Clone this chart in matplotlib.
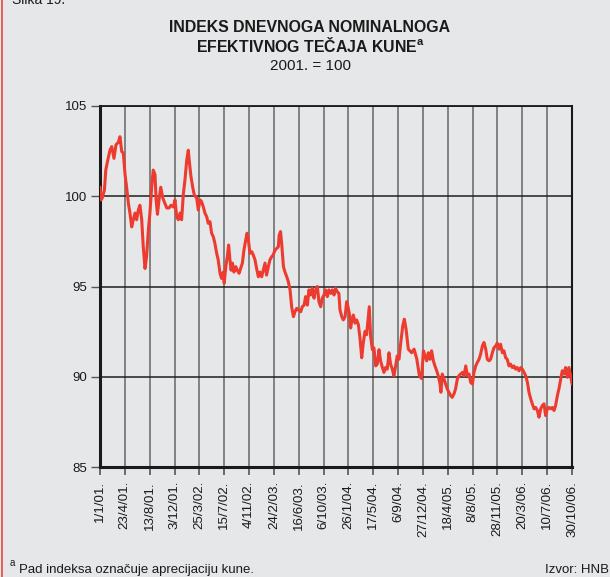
import matplotlib
matplotlib.use('Agg')
import matplotlib.pyplot as plt
from matplotlib.lines import Line2D
import pandas as pd

plt.rcParams['font.family'] = ['Liberation Sans', 'DejaVu Sans']
plt.rcParams['mathtext.default'] = 'regular'

# ---------------- data ----------------
title_line1 = "INDEKS DNEVNOGA NOMINALNOGA"
title_line2 = "EFEKTIVNOG TEČAJA KUNE"
subtitle = "2001. = 100"
figure_label = "Slika 19."
footnote = "Pad indeksa označuje aprecijaciju kune."
source = "Izvor: HNB"
start_date = "2001-01-01"

day_offsets = [
    0, 5, 10, 20, 26, 35, 45, 53, 63, 72, 83, 90, 98, 105, 113, 120, 128, 135, 143, 150,
    158, 165, 173, 180, 188, 195, 203, 210, 218, 225, 233, 240, 248, 253, 259, 266, 274, 283, 293, 301,
    311, 320, 331, 338, 346, 353, 361, 368, 376, 383, 391, 398, 403, 410, 418, 425, 436, 443, 451, 458,
    466, 473, 481, 488,
    496, 503, 511, 518, 526, 533, 541, 548, 556, 560, 567, 574, 580, 586, 591, 597, 604, 612, 619, 627,
    634, 642, 649, 657, 663, 669, 676, 684, 691, 699, 706, 714, 721, 729, 736, 744, 751, 759, 766, 774,
    781, 789, 796, 804, 808, 814, 819, 827, 834, 842, 849, 857, 864, 872, 879, 887, 894,
    905, 912, 920, 927, 935, 942, 950, 957, 965, 972, 980, 987, 995, 1002, 1010, 1017, 1025, 1032, 1040, 1047,
    1055, 1062, 1070, 1077, 1082, 1090, 1097, 1105, 1112, 1118, 1124, 1130, 1136, 1142, 1150, 1157, 1165, 1172, 1180, 1187,
    1195, 1202, 1210, 1214, 1220, 1228, 1235, 1243, 1250, 1258, 1265, 1273, 1280, 1288, 1295, 1303, 1310, 1318, 1325, 1333,
    1340, 1348,
    1356, 1365, 1372, 1380, 1390, 1405, 1416, 1428, 1440, 1450,
    1458, 1465, 1473, 1480, 1488, 1495, 1503, 1510, 1518, 1525, 1533, 1537, 1543, 1551, 1558, 1566, 1573, 1581, 1588, 1596,
    1603, 1611, 1618, 1626, 1634, 1641, 1649, 1656, 1664, 1671, 1679, 1686, 1694, 1701, 1709, 1716, 1724, 1731, 1739, 1746,
    1754, 1761, 1769, 1776, 1784, 1791, 1799, 1806, 1814, 1821, 1829, 1836, 1844, 1851, 1859, 1866, 1874, 1881, 1889, 1897,
    1904, 1912, 1919, 1927, 1934, 1942, 1949, 1957, 1964, 1972, 1979, 1987, 1994, 2002, 2009, 2017, 2024, 2032, 2039, 2047,
    2054, 2062, 2069, 2077, 2084, 2092, 2099, 2107, 2114, 2122, 2128,
]

index_values = [
    100.5, 99.8, 99.9, 100.35, 101.45, 102.0, 102.55, 102.75, 102.1, 102.85, 103.0, 103.3, 102.47, 102.4, 101.2, 100.5, 99.6, 99.07, 98.3, 98.7,
    99.07, 98.7, 99.25, 99.5, 98.7, 97.2, 96.0, 96.65, 98.13, 99.07, 100.5, 101.45, 101.2, 99.8, 99.0, 99.8, 100.5, 99.9, 99.6, 99.35,
    99.35, 99.5, 99.4, 99.8, 98.87, 98.7, 99.07, 98.7, 100.16, 100.9, 102.0, 102.55, 101.9, 101.1, 100.5, 100.07, 99.9, 99.24, 99.8, 99.7,
    99.4, 99.07, 98.87, 98.5,
    98.59, 97.96, 97.75, 97.39, 96.84, 96.47, 95.73, 95.45, 95.8, 95.18, 96.1, 96.65, 97.3, 96.47, 95.9, 96.3, 95.8, 96.1, 95.9, 95.73,
    96.0, 96.3, 97.02, 97.58, 97.95, 97.58, 96.84, 96.93, 96.75, 96.47, 96.0, 95.54, 95.8, 95.54, 95.9, 96.3, 95.63, 96.1, 96.47, 96.65,
    96.75, 97.02, 97.1, 97.2, 97.85, 98.04, 97.39, 96.1, 95.8, 95.54, 95.27, 94.81, 93.88, 93.33, 93.6, 93.79, 93.7,
    93.6, 93.88, 93.97, 94.44, 93.97, 94.81, 94.53, 94.9, 94.35, 94.81, 95.0, 94.16, 93.88, 94.35, 94.53, 94.81, 94.44, 94.81, 94.62, 94.81,
    94.53, 94.9, 94.7, 94.62, 93.7, 93.33, 93.15, 93.33, 94.16, 93.88, 93.5, 92.7, 93.15, 93.42, 92.97, 93.15, 92.88, 92.15, 91.05, 91.88,
    92.52, 92.33, 93.33, 93.88, 92.24, 91.5, 91.6, 90.6, 90.7, 91.5, 90.88, 90.52, 90.24, 90.52, 90.42, 91.33, 90.7, 90.42, 90.06, 90.6,
    91.15, 90.97,
    91.9, 92.82, 93.19, 92.63, 91.53, 91.33, 91.53, 91.0, 90.06, 89.9,
    91.44, 91.16, 90.88, 91.33, 90.97, 91.44, 90.88, 90.6, 90.33, 90.06, 89.6, 89.14, 90.15, 89.87, 89.6, 89.32, 89.14, 88.95, 88.86, 89.05,
    89.32, 89.87, 90.06, 90.15, 90.24, 90.06, 90.6, 90.06, 90.15, 89.69, 89.6, 90.24, 90.6, 90.79, 90.97, 91.25, 91.71, 91.9, 91.53, 90.97,
    90.88, 90.97, 91.33, 91.6, 91.71, 91.86, 91.53, 91.8, 91.33, 91.44, 91.05, 90.97, 90.6, 90.7, 90.51, 90.6, 90.42, 90.51, 90.33, 90.51,
    90.42, 90.24, 90.06, 89.69, 89.14, 88.77, 88.5, 88.22, 88.3, 88.13, 87.76, 88.22, 88.4, 88.5, 87.85, 88.22, 88.3, 88.22, 88.3, 88.13,
    88.4, 88.95, 89.32, 89.87, 90.33, 90.15, 90.51, 89.97, 90.51, 90.06, 89.6,
]

tick_labels = [
    "1/1/01.", "23/4/01.", "13/8/01.", "3/12/01.", "25/3/02.", "15/7/02.", "4/11/02.",
    "24/2/03.", "16/6/03.", "6/10/03.", "26/1/04.", "17/5/04.", "6/9/04.", "27/12/04.",
    "18/4/05.", "8/8/05.", "28/11/05.", "20/3/06.", "10/7/06.", "30/10/06.",
]
y_ticks = [85, 90, 95, 100, 105]

# ---------------- derived ----------------
dates = pd.Timestamp(start_date) + pd.to_timedelta(day_offsets, unit='D')
tick_dates = [pd.to_datetime(lbl.rstrip('.'), format='%d/%m/%y') for lbl in tick_labels]

BG = '#e6e7e8'
LINE = '#ee3b30'

W, H = 610, 577
fig = plt.figure(figsize=(W / 100, H / 100), dpi=100, facecolor=BG)
ax = fig.add_axes([100 / W, 1 - 467 / H, 472 / W, 361 / H], facecolor=BG)

ax.plot(dates, index_values, color=LINE, lw=2.2, solid_joinstyle='round',
        solid_capstyle='round', zorder=3)

ax.set_xlim(tick_dates[0], tick_dates[-1])
ax.set_ylim(y_ticks[0], y_ticks[-1])
ax.set_yticks(y_ticks)
ax.set_yticklabels([str(v) for v in y_ticks])
ax.set_xticks(tick_dates)
ax.set_xticklabels(tick_labels, rotation=90, fontsize=9.6, color='#1a1a1a')

ax.tick_params(axis='x', direction='out', length=6, width=1.2, pad=4, color='#555555')
ax.tick_params(axis='y', direction='out', length=6.5, width=1.0, pad=3, labelsize=9.5,
               color='#555555', labelcolor='#1a1a1a')

ax.xaxis.grid(True, color='#7a7a7a', lw=1.3, zorder=1)
ax.yaxis.grid(True, color='#1f1f1f', lw=1.1, zorder=1)
ax.set_axisbelow(True)

for side, lw in [('left', 2.2), ('bottom', 2.2), ('top', 1.3), ('right', 1.5)]:
    ax.spines[side].set_linewidth(lw)
    ax.spines[side].set_color('#1a1a1a')

# ---------------- texts ----------------
cx = 310 / W
fig.text(cx, 1 - 32.3 / H, title_line1, ha='center', va='baseline',
         fontsize=11.4, fontweight='bold', color='#1a1a1a')
fig.text(cx, 1 - 52.3 / H, title_line2 + r"$^{a}$", ha='center', va='baseline',
         fontsize=11.4, fontweight='bold', color='#1a1a1a')
fig.text(cx, 1 - 70 / H, subtitle, ha='center', va='baseline',
         fontsize=11, color='#1a1a1a')

fig.text(12 / W, 1 - 3.5 / H, figure_label, ha='left', va='baseline',
         fontsize=10, color='#1a1a1a')

fig.text(10 / W, 1 - 566 / H, "a", ha='left', va='baseline', fontsize=7, color='#1a1a1a')
fig.text(19 / W, 1 - 573 / H, footnote, ha='left', va='baseline', fontsize=9.5, color='#1a1a1a')
fig.text(609 / W, 1 - 573 / H, source, ha='right', va='baseline', fontsize=9.5, color='#1a1a1a')

fig.add_artist(Line2D([2 / W, 2 / W], [0, 1], transform=fig.transFigure,
                      color='#e8473f', lw=1.2))

fig.savefig('out.png', dpi=100, facecolor=BG)
